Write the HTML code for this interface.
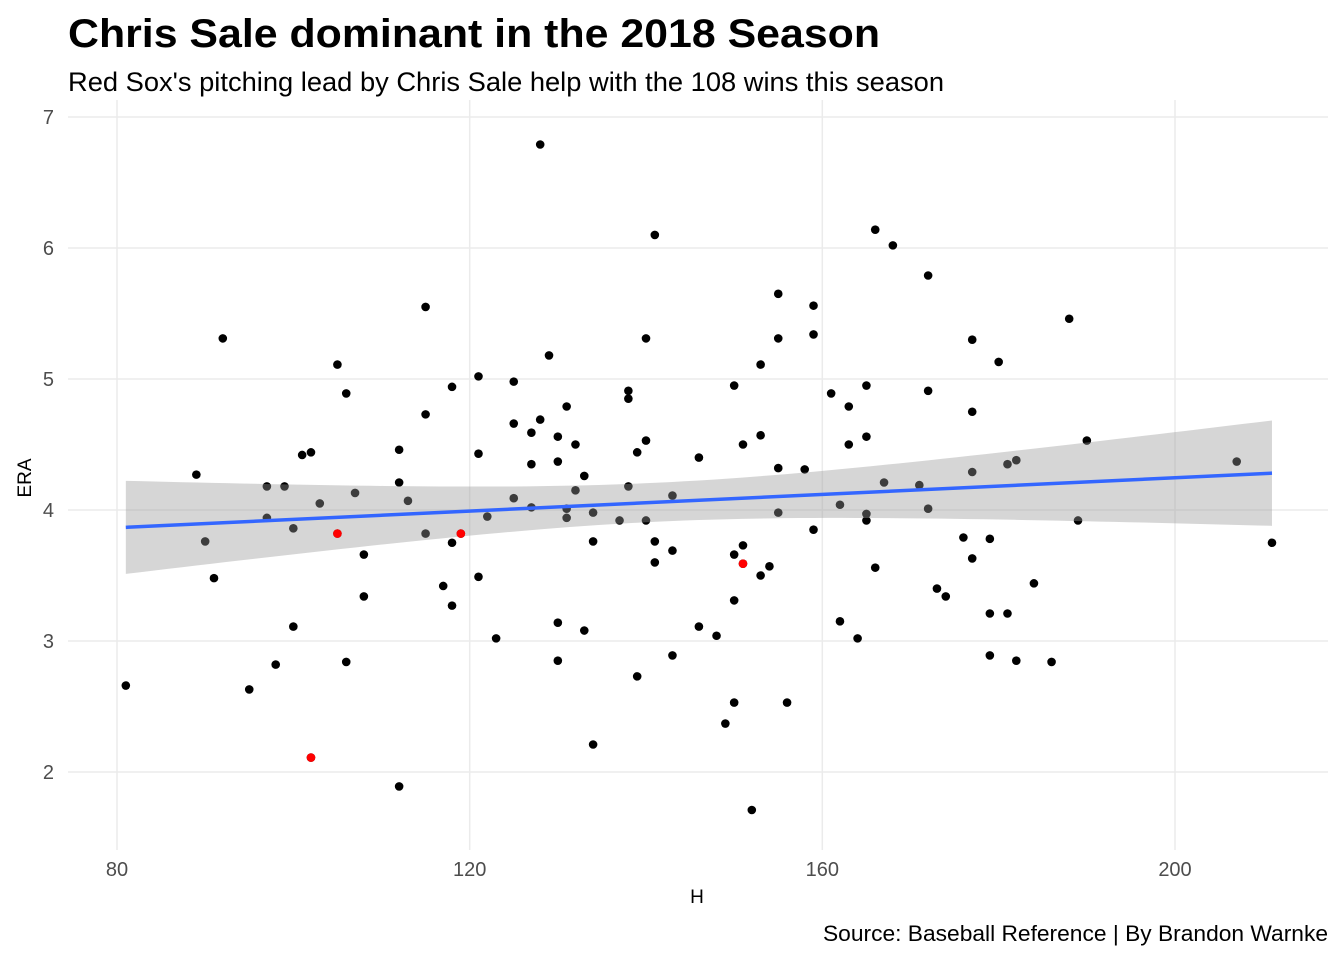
<!DOCTYPE html>
<html><head><meta charset="utf-8"><style>
body{margin:0;background:#fff;}
svg{display:block;font-family:"Liberation Sans",Arial,sans-serif;}
</style></head><body>
<svg id="chart" width="1344" height="960" viewBox="0 0 1344 960">
<text x="68" y="47" font-size="40" font-weight="bold" fill="#000" textLength="812" lengthAdjust="spacingAndGlyphs">Chris Sale dominant in the 2018 Season</text>
<text x="68" y="91" font-size="26.5" fill="#000" textLength="876" lengthAdjust="spacingAndGlyphs">Red Sox's pitching lead by Chris Sale help with the 108 wins this season</text>
<g id="grid"></g>
<g id="points"></g>
<g id="smooth"></g>
<g id="axes"></g>
<text x="697" y="903" font-size="19" fill="#000" text-anchor="middle">H</text>
<text transform="translate(31,478) rotate(-90)" font-size="19" fill="#000" text-anchor="middle">ERA</text>
<text x="823" y="941" font-size="22.5" fill="#000" textLength="505" lengthAdjust="spacingAndGlyphs">Source: Baseball Reference | By Brandon Warnke</text>
</svg>
<script>
const hits=[81,89,90,91,92,95,97,97,98,99,100,100,101,102,102,103,105,105,106,106,107,108,108,112,112,112,113,115,115,115,117,118,118,118,119,121,121,121,122,123,125,125,125,127,127,127,128,128,129,130,130,130,130,131,131,131,132,132,133,133,134,134,134,137,138,138,138,139,139,140,140,140,141,141,141,143,143,143,146,146,148,149,150,150,150,150,151,151,151,152,153,153,153,154,155,155,155,155,156,158,159,159,159,161,162,162,163,163,164,165,165,165,165,166,166,167,168,171,172,172,172,173,174,176,177,177,177,177,179,179,179,180,181,181,182,182,184,186,188,189,190,207,211];
const era=[2.66,4.27,3.76,3.48,5.31,2.63,4.18,3.94,2.82,4.18,3.11,3.86,4.42,4.44,2.11,4.05,5.11,3.82,4.89,2.84,4.13,3.66,3.34,4.46,4.21,1.89,4.07,5.55,4.73,3.82,3.42,4.94,3.75,3.27,3.82,5.02,4.43,3.49,3.95,3.02,4.98,4.66,4.09,4.35,4.59,4.02,6.79,4.69,5.18,4.56,4.37,3.14,2.85,4.79,4.01,3.94,4.50,4.15,4.26,3.08,3.98,3.76,2.21,3.92,4.91,4.85,4.18,4.44,2.73,5.31,4.53,3.92,6.10,3.76,3.60,4.11,3.69,2.89,4.40,3.11,3.04,2.37,4.95,3.66,3.31,2.53,4.50,3.73,3.59,1.71,5.11,4.57,3.50,3.57,5.65,5.31,4.32,3.98,2.53,4.31,5.56,5.34,3.85,4.89,4.04,3.15,4.79,4.50,3.02,4.95,4.56,3.97,3.92,6.14,3.56,4.21,6.02,4.19,5.79,4.91,4.01,3.40,3.34,3.79,5.30,4.75,4.29,3.63,3.78,3.21,2.89,5.13,4.35,3.21,4.38,2.85,3.44,2.84,5.46,3.92,4.53,4.37,3.75];
const redSox=[[102,2.11],[105,3.82],[119,3.82],[151,3.59]];
const xTicks=[80,120,160,200];
const yTicks=[2,3,4,5,6,7];
const NS="http://www.w3.org/2000/svg";
const xs=v=>117+(v-80)*(1175-117)/120;
const ys=v=>772-(v-2)*(772-117)/5;
function mk(tag,attrs,parent){const e=document.createElementNS(NS,tag);for(const k in attrs)e.setAttribute(k,attrs[k]);parent.appendChild(e);return e;}
const grid=document.getElementById('grid'),axes=document.getElementById('axes');
yTicks.forEach(t=>{
  const l=mk('line',{x1:68,x2:1328,y1:ys(t),y2:ys(t),stroke:'#ebebeb','stroke-width':1.5},grid);
  
  
  const tx=mk('text',{x:54,y:ys(t)+7,'font-size':20,fill:'#4d4d4d','text-anchor':'end'},axes);
  tx.textContent=t;
  
  
});
xTicks.forEach(t=>{
  const l=mk('line',{x1:xs(t),x2:xs(t),y1:100,y2:850,stroke:'#ebebeb','stroke-width':1.5},grid);
  
  
  const tx=mk('text',{x:xs(t),y:876,'font-size':20,fill:'#4d4d4d','text-anchor':'middle'},axes);
  tx.textContent=t;
  
  
});
const pts=document.getElementById('points');
hits.forEach((h,i)=>{
  const c=mk('circle',{cx:xs(h),cy:ys(era[i]),r:4.3,fill:'#000'},pts);
  
  
});
const n=hits.length;
const mx=hits.reduce((a,b)=>a+b,0)/n,my=era.reduce((a,b)=>a+b,0)/n;
let sxx=0,sxy=0;hits.forEach((h,i)=>{sxx+=(h-mx)**2;sxy+=(h-mx)*(era[i]-my);});
const b=sxy/sxx,a=my-b*mx;
let sse=0;hits.forEach((h,i)=>{sse+=(era[i]-a-b*h)**2;});
const s=Math.sqrt(sse/(n-2)),tq=1.977;
const x0=Math.min(...hits),x1=Math.max(...hits);
let up=[],lo=[];
for(let k=0;k<=80;k++){const x=x0+(x1-x0)*k/80;const f=a+b*x;const se=s*Math.sqrt(1/n+(x-mx)**2/sxx);
  up.push(xs(x)+','+ys(f+tq*se));lo.unshift(xs(x)+','+ys(f-tq*se));}
const sm=document.getElementById('smooth');
const band=mk('polygon',{points:up.concat(lo).join(' '),fill:'#999','fill-opacity':0.4},sm);


const ln=mk('line',{x1:xs(x0),y1:ys(a+b*x0),x2:xs(x1),y2:ys(a+b*x1),stroke:'#3366ff','stroke-width':3.5},sm);


redSox.forEach(p=>{
  const c=mk('circle',{cx:xs(p[0]),cy:ys(p[1]),r:4.3,fill:'#ff0000'},sm);
  
  
});
</script>
</body></html>
